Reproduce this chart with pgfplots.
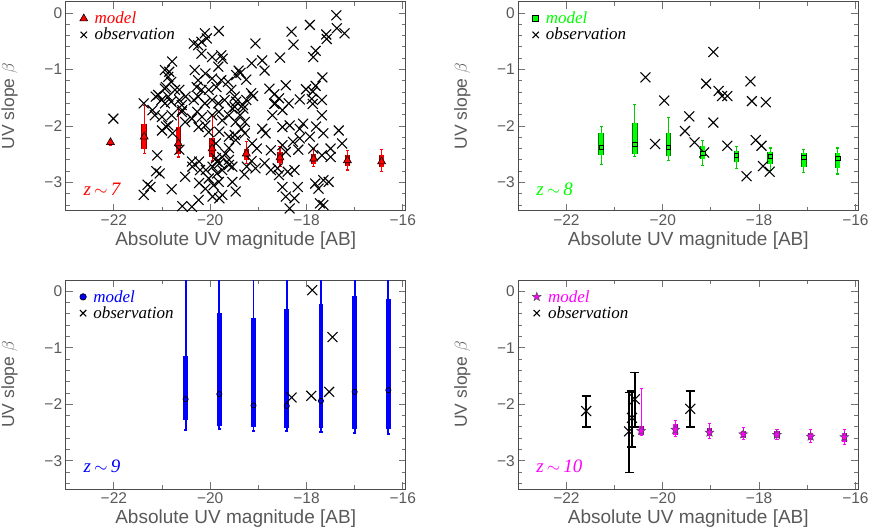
\documentclass[border=0pt]{standalone}
\usepackage{fontspec}
\newfontfamily\sansf{Liberation Sans}
\newfontfamily\seriff{Liberation Serif}
\usepackage{pgfplots}
\pgfplotsset{compat=1.18}
\usepackage{pgfplotstable}
\usetikzlibrary{plotmarks}

\definecolor{axgray}{gray}{0.3}
\definecolor{txtgray}{gray}{0.35}
\definecolor{mag}{rgb}{1,0,1}
\definecolor{grn}{rgb}{0,1,0}
\definecolor{blu}{rgb}{0,0,1}

% filled five-pointed star
\pgfdeclareplotmark{fstar}{%
  \pgfpathmoveto{\pgfpointpolar{90}{\pgfplotmarksize}}%
  \pgfpathlineto{\pgfpointpolar{126}{0.42\pgfplotmarksize}}%
  \pgfpathlineto{\pgfpointpolar{162}{\pgfplotmarksize}}%
  \pgfpathlineto{\pgfpointpolar{198}{0.42\pgfplotmarksize}}%
  \pgfpathlineto{\pgfpointpolar{234}{\pgfplotmarksize}}%
  \pgfpathlineto{\pgfpointpolar{270}{0.42\pgfplotmarksize}}%
  \pgfpathlineto{\pgfpointpolar{306}{\pgfplotmarksize}}%
  \pgfpathlineto{\pgfpointpolar{342}{0.42\pgfplotmarksize}}%
  \pgfpathlineto{\pgfpointpolar{18}{\pgfplotmarksize}}%
  \pgfpathlineto{\pgfpointpolar{54}{0.42\pgfplotmarksize}}%
  \pgfpathclose
  \pgfusepathqfillstroke
}

% model bins: centre, box top/bottom, whisker top/bottom
\pgfplotstableread{
x y bt bb wt wb
-22.07 -2.29 -2.26 -2.33 -2.25 -2.34
-21.37 -2.19 -1.97 -2.40 -1.63 -2.49
-20.66 -2.31 -2.02 -2.49 -1.68 -2.55
-19.96 -2.40 -2.21 -2.55 -1.80 -2.62
-19.25 -2.49 -2.40 -2.60 -2.27 -2.66
-18.55 -2.56 -2.46 -2.66 -2.37 -2.71
-17.85 -2.58 -2.49 -2.68 -2.40 -2.72
-17.15 -2.61 -2.52 -2.70 -2.43 -2.78
-16.44 -2.63 -2.52 -2.72 -2.42 -2.81
}\modelA
\pgfplotstableread{
x y bt bb wt wb
-21.28 -2.38 -2.13 -2.51 -2.01 -2.69
-20.58 -2.32 -1.94 -2.49 -1.62 -2.54
-19.88 -2.38 -2.13 -2.54 -1.85 -2.61
-19.17 -2.48 -2.36 -2.59 -2.26 -2.70
-18.47 -2.52 -2.45 -2.63 -2.36 -2.75
-17.77 -2.54 -2.46 -2.67 -2.39 -2.79
-17.07 -2.55 -2.48 -2.72 -2.41 -2.82
-16.37 -2.57 -2.48 -2.75 -2.39 -2.85
}\modelB
\pgfplotstableread{
x y bt bb wt wb
-20.51 -1.91 -1.15 -2.28 1.0 -2.45
-19.81 -1.82 -0.39 -2.38 1.0 -2.44
-19.10 -2.02 -0.48 -2.41 1.0 -2.48
-18.41 -2.03 -0.32 -2.42 1.0 -2.48
-17.70 -1.94 -0.23 -2.42 1.0 -2.49
-17.00 -1.78 -0.09 -2.44 1.0 -2.51
-16.30 -1.75 -0.13 -2.44 1.0 -2.53
}\modelC
\pgfplotstableread{
x y bt bb wt wb
-20.45 -2.47 -2.38 -2.54 -1.72 -2.56
-19.74 -2.45 -2.35 -2.55 -2.28 -2.57
-19.03 -2.50 -2.42 -2.57 -2.34 -2.60
-18.33 -2.53 -2.47 -2.59 -2.41 -2.62
-17.63 -2.54 -2.48 -2.60 -2.44 -2.63
-16.93 -2.57 -2.51 -2.63 -2.45 -2.67
-16.23 -2.58 -2.51 -2.66 -2.44 -2.71
}\modelD

% observations
\pgfplotstableread{
x y
-17.38 -0.04
-17.93 -0.21
-17.37 -0.27
-17.21 -0.36
-17.59 -0.38
-17.58 -0.46
-18.31 -0.33
-18.27 -0.56
-19.06 -0.54
-17.81 -0.67
-17.86 -0.78
-18.55 -0.79
-18.92 -0.84
-19.14 -0.89
-18.87 -1.02
-19.41 -1.02
-19.37 -1.06
-19.46 -1.10
-19.25 -1.18
-17.67 -1.14
-18.43 -1.28
-18.77 -1.34
-17.81 -1.29
-18.01 -1.35
-17.87 -1.39
-19.15 -1.42
-19.11 -1.47
-18.67 -1.44
-18.57 -1.51
-18.14 -1.53
-17.89 -1.52
-19.46 -1.57
-19.25 -1.54
-19.32 -1.63
-18.65 -1.60
-17.87 -1.61
-21.38 -1.60
-20.11 -0.36
-19.82 -0.32
-20.07 -0.45
-20.18 -0.51
-20.34 -0.54
-20.25 -0.57
-20.18 -0.72
-19.96 -0.78
-19.77 -0.75
-19.74 -0.81
-20.79 -0.86
-20.94 -1.01
-20.32 -1.01
-19.83 -0.95
-20.10 -1.07
-20.87 -1.13
-20.81 -1.22
-20.25 -1.19
-19.96 -1.16
-19.77 -1.19
-20.94 -1.34
-20.73 -1.36
-21.08 -1.45
-21.01 -1.54
-20.94 -1.60
-20.87 -1.48
-20.81 -1.57
-20.28 -1.31
-20.18 -1.36
-20.03 -1.36
-19.87 -1.31
-19.63 -1.22
-19.56 -1.36
-20.59 -1.63
-20.34 -1.54
-20.25 -1.48
-20.11 -1.60
-19.96 -1.54
-19.83 -1.60
-19.70 -1.54
-19.49 -1.48
-22.01 -1.87
-21.15 -1.81
-21.00 -1.84
-21.00 -2.08
-20.87 -1.99
-20.80 -1.81
-20.59 -1.75
-20.52 -1.93
-20.38 -1.87
-20.27 -1.75
-20.17 -1.84
-20.24 -2.02
-20.10 -1.99
-20.03 -2.11
-19.96 -1.81
-19.82 -1.75
-19.75 -1.90
-19.61 -1.81
-19.54 -1.69
-19.47 -1.93
-21.10 -2.52
-21.12 -2.80
-21.38 -3.22
-21.24 -3.08
-20.80 -3.12
-20.52 -2.90
-20.38 -2.63
-20.21 -2.78
-20.38 -3.43
-20.24 -3.31
-20.10 -3.11
-19.93 -3.05
-19.82 -2.99
-19.75 -3.22
-20.03 -2.93
-19.86 -2.84
-19.75 -2.78
-19.61 -2.69
-19.86 -2.63
-19.75 -2.55
-19.68 -2.49
-19.54 -2.99
-19.47 -3.16
-18.67 -1.61
-19.49 -1.66
-19.31 -1.69
-19.38 -1.81
-19.28 -1.93
-19.35 -2.05
-19.49 -2.16
-19.28 -2.13
-18.71 -1.81
-17.68 -1.81
-18.92 -2.05
-18.85 -2.13
-18.50 -2.02
-18.35 -1.99
-18.14 -2.05
-18.07 -1.96
-17.93 -2.19
-17.65 -2.13
-17.33 -2.08
-17.26 -2.31
-17.50 -2.40
-17.50 -2.55
-17.68 -2.52
-17.86 -2.40
-18.14 -2.22
-18.28 -2.28
-18.50 -2.34
-18.43 -2.46
-18.74 -2.43
-19.03 -2.40
-19.13 -2.31
-19.24 -2.72
-19.06 -2.75
-18.74 -2.78
-18.60 -2.75
-18.39 -2.81
-18.25 -2.78
-18.57 -2.87
-18.50 -3.08
-18.43 -3.25
-18.25 -3.28
-18.35 -3.46
-18.18 -3.08
-17.82 -3.02
-17.65 -2.96
-17.54 -2.99
-17.75 -3.11
-17.72 -3.37
-17.65 -3.40
-19.81 -2.10
-19.61 -2.19
-19.47 -2.25
-19.88 -2.31
-19.61 -2.39
-19.88 -2.57
-19.61 -2.60
-19.81 -2.66
-19.54 -2.72
-19.95 -2.72
-20.09 -2.78
-20.23 -2.63
-20.37 -2.72
-20.23 -3.01
-19.81 -3.28
-19.95 -3.25
-20.58 -3.42
-21.05 -2.84
-21.30 -3.04
-20.64 -2.42
-20.78 -2.13
-20.92 -2.01
-21.20 -1.72
-21.13 -1.48
-20.92 -1.31
-20.85 -1.04
-20.58 -1.72
-20.51 -1.48
-20.64 -1.36
-20.64 -1.54
-18.87 -2.66
-19.14 -2.62
-19.29 -2.86
-18.50 -1.72
-18.37 -1.60
-18.17 -2.42
-17.80 -2.01
-17.68 -1.54
}\obsA
\pgfplotstableread{
x y
-18.95 -0.69
-20.36 -1.14
-19.10 -1.25
-18.18 -1.21
-18.84 -1.38
-18.77 -1.47
-18.66 -1.47
-18.15 -1.56
-17.86 -1.58
-19.97 -1.55
-19.45 -1.83
-18.95 -1.94
-19.54 -2.09
-20.16 -2.32
-19.34 -2.29
-19.14 -2.47
-18.66 -2.35
-18.07 -2.25
-17.95 -2.35
-17.92 -2.71
-17.78 -2.81
-18.26 -2.89
}\obsB
\pgfplotstableread{
x y
-17.88 0.02
-17.46 -0.81
-18.31 -1.88
-17.90 -1.85
-17.53 -1.78
}\obsC
\pgfplotstableread{
x y t b
-21.59 -2.12 -1.85 -2.40
-19.43 -2.08 -1.77 -2.40
-20.70 -2.48 -1.79 -3.21
-20.64 -2.24 -1.76 -2.76
-20.58 -1.91 -1.44 -2.40
}\obsD

\tikzset{zlab/.style={anchor=west, font=\seriff\itshape\fontsize{19}{19}\selectfont}}

\pgfplotsset{
  uvpanel/.style={
    scale only axis, width=340pt, height=209pt,
    xmin=-23, xmax=-15.94, ymin=-3.5, ymax=0.2,
    xtick={-22,-20,-18,-16}, xticklabels={−22,−20,−18,−16},
    minor xtick={-23,-21,-19,-17},
    ytick={0,-1,-2,-3}, yticklabels={0,−1,−2,−3},
    minor ytick={-3.4,-3.2,-2.8,-2.6,-2.4,-2.2,-1.8,-1.6,-1.4,-1.2,-0.8,-0.6,-0.4,-0.2},
    tick align=inside,
    major tick length=7pt, minor tick length=4pt,
    axis line style={axgray, line width=0.9pt},
    major tick style={black!55, line width=0.9pt},
    minor tick style={black!55, line width=0.9pt},
    tick label style={font=\sansf\fontsize{15.5}{16}\selectfont, text=txtgray},
    xlabel={Absolute UV magnitude [AB]},
    ylabel={UV slope $\beta$},
    label style={font=\sansf\fontsize{19}{20}\selectfont, text=txtgray},
    xlabel style={at={(axis description cs:0.5,0)}, anchor=center, yshift=-30pt},
    ylabel style={at={(axis description cs:0,0.5)}, anchor=center, yshift=56pt,
      inner sep=0pt, font=\sansf\fontsize{17.5}{18}\selectfont},
    legend style={at={(axis description cs:0,1)}, anchor=north west,
      xshift=14pt, yshift=-8pt, draw=none, fill=none,
      font=\seriff\itshape\fontsize{17}{17}\selectfont,
      row sep=-1pt, inner sep=0pt,
      /tikz/every odd column/.append style={column sep=5pt}},
    legend cell align=left,
    reverse legend,
    legend image code/.code={\draw[##1] plot coordinates {(0pt,0pt)};},
    legend image post style={mark size=4.5pt},
  },
  obs/.style={only marks, mark=x, mark size=7pt, black, mark options={line width=1.1pt}},
  whisk/.style={only marks, mark=none, forget plot,
    error bars/.cd, y dir=both, y explicit,
    error bar style={line width=#1},
    error mark options={rotate=90, mark size=1.6pt, line width=#1}},
  whisk/.default=1.1pt,
  boxb/.style={only marks, mark=none, forget plot,
    error bars/.cd, y dir=both, y explicit,
    error bar style={line width=#1}, error mark=none},
  smallleg/.style={legend image code/.code={\draw[##1, mark size=#1] plot coordinates {(0pt,0pt)};}},
}

\begin{document}
\begin{tikzpicture}
\path[use as bounding box] (0,0) rectangle (872pt,-531pt);

% z~7
\begin{axis}[uvpanel, at={(65.7pt,-1.7pt)}, anchor=north west]
\addplot[obs] table[x=x,y=y] {\obsA};
\addlegendentry{observation}
\addplot[red, whisk] table[x=x, y=y, y error plus expr={\thisrow{wt}-\thisrow{y}}, y error minus expr={\thisrow{y}-\thisrow{wb}}] {\modelA};
\addplot[red!55!black, boxb=5.4pt] table[x=x, y=y, y error plus expr={\thisrow{bt}-\thisrow{y}}, y error minus expr={\thisrow{y}-\thisrow{bb}}] {\modelA};
\addplot[red, boxb=3.8pt] table[x=x, y=y, y error plus expr={\thisrow{bt}-\thisrow{y}}, y error minus expr={\thisrow{y}-\thisrow{bb}}] {\modelA};
\addplot[only marks, mark=triangle*, mark size=4.6pt, mark options={fill=red, draw=black, line width=0.6pt}] table[x=x,y=y] {\modelA};
\addlegendentry{\textcolor{red}{model}}
\node[zlab, text=red] at (axis cs:-22.7,-3.12) {z\,$\sim$\,7};
\end{axis}

% z~8
\begin{axis}[uvpanel, at={(518.3pt,-1.7pt)}, anchor=north west]
\addplot[obs] table[x=x,y=y] {\obsB};
\addlegendentry{observation}
\addplot[grn!80!black, whisk] table[x=x, y=y, y error plus expr={\thisrow{wt}-\thisrow{y}}, y error minus expr={\thisrow{y}-\thisrow{wb}}] {\modelB};
\addplot[grn!45!black, boxb=5.4pt] table[x=x, y=y, y error plus expr={\thisrow{bt}-\thisrow{y}}, y error minus expr={\thisrow{y}-\thisrow{bb}}] {\modelB};
\addplot[grn, boxb=3.8pt] table[x=x, y=y, y error plus expr={\thisrow{bt}-\thisrow{y}}, y error minus expr={\thisrow{y}-\thisrow{bb}}] {\modelB};
\addplot[only marks, mark=square*, mark size=2.2pt, mark options={fill=grn, draw=black, line width=0.6pt}, smallleg=3pt] table[x=x,y=y] {\modelB};
\addlegendentry{\textcolor{grn}{model}}
\node[zlab, text=grn] at (axis cs:-22.7,-3.12) {z\,$\sim$\,8};
\end{axis}

% z~9
\begin{axis}[uvpanel, at={(65.7pt,-280pt)}, anchor=north west]
\addplot[obs] table[x=x,y=y] {\obsC};
\addlegendentry{observation}
\addplot[blu, whisk=1.8pt] table[x=x, y=y, y error plus expr={\thisrow{wt}-\thisrow{y}}, y error minus expr={\thisrow{y}-\thisrow{wb}}] {\modelC};
\addplot[blu, boxb=4.6pt] table[x=x, y=y, y error plus expr={\thisrow{bt}-\thisrow{y}}, y error minus expr={\thisrow{y}-\thisrow{bb}}] {\modelC};
\addplot[only marks, mark=*, mark size=2.6pt, mark options={fill=blu, draw=black, line width=0.7pt}, smallleg=3.2pt] table[x=x,y=y] {\modelC};
\addlegendentry{\textcolor{blu}{model}}
\node[zlab, text=blu] at (axis cs:-22.7,-3.1) {z\,$\sim$\,9};
\end{axis}

% z~10
\begin{axis}[uvpanel, at={(518.3pt,-280pt)}, anchor=north west]
\addplot[black, only marks, mark=x, mark size=7pt, mark options={line width=1.1pt},
  error bars/.cd, y dir=both, y explicit,
  error bar style={line width=1.6pt},
  error mark options={rotate=90, mark size=4.5pt, line width=1.6pt}]
  table[x=x, y=y, y error plus expr={\thisrow{t}-\thisrow{y}}, y error minus expr={\thisrow{y}-\thisrow{b}}] {\obsD};
\addlegendentry{observation}
\addplot[mag, whisk] table[x=x, y=y, y error plus expr={\thisrow{wt}-\thisrow{y}}, y error minus expr={\thisrow{y}-\thisrow{wb}}] {\modelD};
\addplot[mag!55!black, boxb=5.2pt] table[x=x, y=y, y error plus expr={\thisrow{bt}-\thisrow{y}}, y error minus expr={\thisrow{y}-\thisrow{bb}}] {\modelD};
\addplot[mag, boxb=3.8pt] table[x=x, y=y, y error plus expr={\thisrow{bt}-\thisrow{y}}, y error minus expr={\thisrow{y}-\thisrow{bb}}] {\modelD};
\addplot[only marks, mark=fstar, mark size=4.6pt, mark options={fill=mag, draw=black!70, line width=0.5pt}] table[x=x,y=y] {\modelD};
\addlegendentry{\textcolor{mag}{model}}
\node[zlab, text=mag] at (axis cs:-22.7,-3.1) {z\,$\sim$\,10};
\end{axis}
\end{tikzpicture}
\end{document}
